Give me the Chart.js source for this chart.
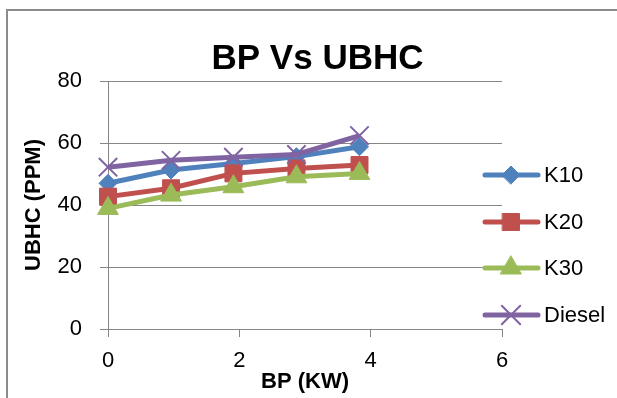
<!DOCTYPE html>
<html>
<head>
<meta charset="utf-8">
<script src="https://cdn.jsdelivr.net/npm/chart.js@4/dist/chart.umd.min.js"></script>
<style>
  body { margin: 0; background: #fff; }
  #wrap { position: relative; width: 617px; height: 398px; overflow: hidden; }
  #frame {
    position: absolute; left: 6px; top: 9px; width: 800px; height: 600px;
    border-left: 2px solid #8c8c8c; border-top: 2px solid #8c8c8c;
  }
  canvas { position: absolute; left: 0; top: 0; }
</style>
</head>
<body>
<div id="wrap">
  <div id="frame"></div>
  <canvas id="chart" width="617" height="398"></canvas>
</div>
<script>
const FONT = "'Liberation Sans', Arial, sans-serif";

const bpValues = [0, 0.96, 1.91, 2.87, 3.83];
const k10 = [47, 51.3, 53.4, 55.6, 58.8];
const k20 = [42.7, 45.4, 50.2, 51.8, 52.9];
const k30 = [38.9, 43.2, 45.9, 49.1, 50.2];
const diesel = [52.2, 54.4, 55.4, 56.3, 62.4];
const xTicks = [0, 2, 4, 6];
const yTicks = [0, 20, 40, 60, 80];

function points(values) {
  return bpValues.map((x, i) => ({ x: x, y: values[i] }));
}

function series(label, values, color, style, radius, order) {
  return {
    label: label,
    data: points(values),
    borderColor: color,
    backgroundColor: color,
    borderWidth: 5,
    pointStyle: style,
    pointRadius: radius,
    pointBorderWidth: style === "crossRot" ? 2 : 1,
    pointBorderColor: color,
    pointBackgroundColor: color,
    tension: 0,
    clip: false,
    order: order
  };
}

// legend drawn like the excel one: line + marker, then name
const legendPlugin = {
  id: "sideLegend",
  afterDraw(chart) {
    const ctx = chart.ctx;
    const rows = [175, 222, 268, 315];
    chart.data.datasets.forEach((ds, i) => {
      const y = rows[i];
      ctx.save();
      ctx.strokeStyle = ds.borderColor;
      ctx.lineWidth = 5;
      ctx.lineCap = "round";
      ctx.beginPath();
      ctx.moveTo(485, y);
      ctx.lineTo(538, y);
      ctx.stroke();
      ctx.fillStyle = ds.backgroundColor;
      ctx.strokeStyle = ds.borderColor;
      ctx.lineWidth = ds.pointBorderWidth;
      Chart.helpers.drawPoint(ctx, { pointStyle: ds.pointStyle, radius: ds.pointRadius, rotation: 0, borderWidth: ds.pointBorderWidth }, 511, y);
      ctx.fillStyle = "#000";
      ctx.font = "22px " + FONT;
      ctx.textBaseline = "middle";
      ctx.fillText(ds.label, 544, y + 1);
      ctx.restore();
    });
  }
};

new Chart(document.getElementById("chart"), {
  type: "line",
  data: {
    datasets: [
      series("K10", k10, "#4f81bd", "rectRot", 9, 3),
      series("K20", k20, "#c0504d", "rect", 12, 2),
      series("K30", k30, "#9bbb59", "triangle", 12, 1),
      series("Diesel", diesel, "#8064a2", "crossRot", 13, 0)
    ]
  },
  options: {
    responsive: false,
    animation: false,
    layout: { padding: { left: 18, right: 0, top: 0, bottom: 0 } },
    plugins: {
      legend: { display: false },
      tooltip: { enabled: false },
      title: {
        display: true,
        text: "BP Vs UBHC",
        color: "#000",
        font: { family: FONT, size: 35, weight: "bold" },
        padding: { top: 38, bottom: 1 }
      }
    },
    scales: {
      x: {
        type: "linear",
        min: 0,
        max: 6,
        afterBuildTicks: (s) => { s.ticks = xTicks.map((v) => ({ value: v })); },
        afterFit: (s) => { s.height = 69; },
        grid: { drawOnChartArea: false, tickLength: 8, color: "#868686" },
        border: { color: "#868686" },
        ticks: { color: "#000", padding: 11, font: { family: FONT, size: 22 } },
        title: {
          display: true,
          text: "BP (KW)",
          color: "#000",
          font: { family: FONT, size: 22, weight: "bold" },
          padding: { top: 0, bottom: 3 }
        }
      },
      y: {
        min: 0,
        max: 80,
        afterBuildTicks: (s) => { s.ticks = yTicks.map((v) => ({ value: v })); },
        afterFit: (s) => { s.width = 90; },
        grid: { tickLength: 8, color: "#868686" },
        border: { color: "#868686" },
        ticks: { color: "#000", padding: 18, font: { family: FONT, size: 22 } },
        title: {
          display: true,
          text: "UBHC (PPM)",
          color: "#000",
          font: { family: FONT, size: 22, weight: "bold" },
          padding: { top: 3, bottom: 0 }
        }
      },
      // empty right-hand axis that only keeps room for the legend
      side: {
        position: "right",
        display: true,
        afterFit: (s) => { s.width = 115; },
        grid: { display: false },
        border: { display: false },
        ticks: { display: false }
      }
    }
  },
  plugins: [legendPlugin]
});
</script>
</body>
</html>
